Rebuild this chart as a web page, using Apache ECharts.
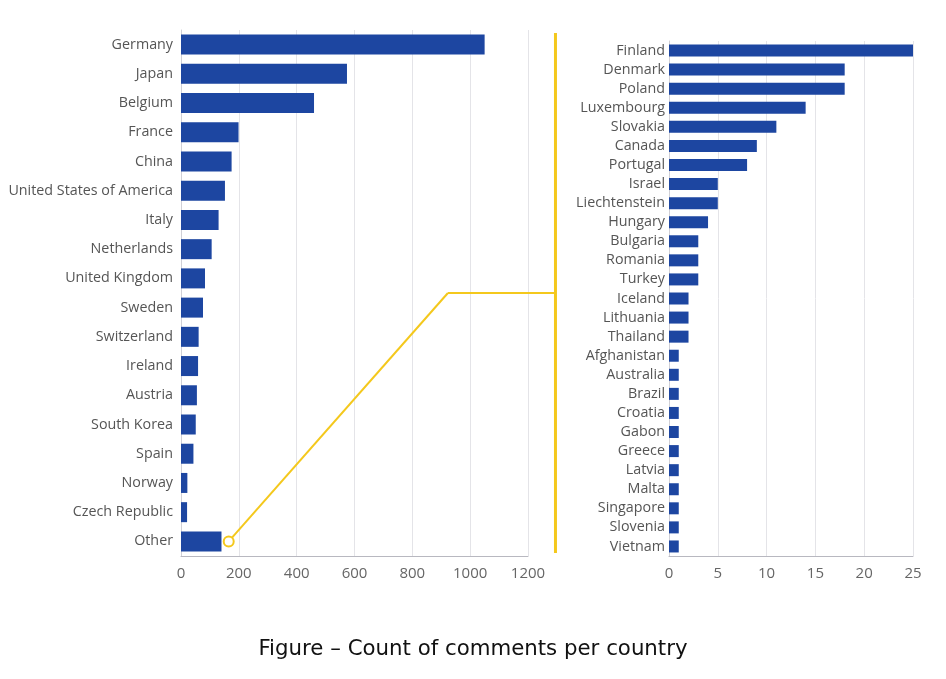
<!DOCTYPE html>
<html>
<head>
<meta charset="utf-8">
<script src="https://cdn.jsdelivr.net/npm/echarts@6/dist/echarts.min.js"></script>
<style>
  html, body { margin: 0; padding: 0; background: #fff; }
  #main { width: 946px; height: 679px; }
</style>
</head>
<body>
<div id="main"></div>
<script>
// left panel: main countries
var bigCountries = ['Germany', 'Japan', 'Belgium', 'France', 'China', 'United States of America',
  'Italy', 'Netherlands', 'United Kingdom', 'Sweden', 'Switzerland', 'Ireland', 'Austria',
  'South Korea', 'Spain', 'Norway', 'Czech Republic', 'Other'];
var bigCounts = [1050, 574, 460, 199, 175, 152, 130, 106, 83, 76, 61, 59, 55, 51, 43, 22, 21, 140];

// right panel: breakdown of "Other"
var otherCountries = ['Finland', 'Denmark', 'Poland', 'Luxembourg', 'Slovakia', 'Canada', 'Portugal',
  'Israel', 'Liechtenstein', 'Hungary', 'Bulgaria', 'Romania', 'Turkey', 'Iceland', 'Lithuania',
  'Thailand', 'Afghanistan', 'Australia', 'Brazil', 'Croatia', 'Gabon', 'Greece', 'Latvia',
  'Malta', 'Singapore', 'Slovenia', 'Vietnam'];
var otherCounts = [25, 18, 18, 14, 11, 9, 8, 5, 5, 4, 3, 3, 3, 2, 2, 2, 1, 1, 1, 1, 1, 1, 1, 1, 1, 1, 1];

var caption = 'Figure – Count of comments per country';

var barColor = '#1d46a1';
var yellow = '#f4c81c';
var labelFont = 'Open Sans';

var chart = echarts.init(document.getElementById('main'));

var option = {
  animation: false,
  title: {
    text: caption,
    left: 'center',
    top: 634,
    textStyle: { fontFamily: 'DejaVu Sans', fontWeight: 'normal', fontSize: 21.3, color: '#111' }
  },
  grid: [
    { left: 181, right: 418, top: 30, bottom: 123 },
    { left: 669, right: 33, top: 41, bottom: 123 }
  ],
  xAxis: [
    {
      gridIndex: 0, type: 'value', min: 0, max: 1200, interval: 200,
      axisLine: { show: true, lineStyle: { color: '#b8b8c0', width: 1 } },
      axisTick: { show: false },
      splitLine: { lineStyle: { color: '#e4e4e8' } },
      axisLabel: { color: '#666', fontFamily: labelFont, fontSize: 15, margin: 10,
        formatter: function (v) { return String(v); } }
    },
    {
      gridIndex: 1, type: 'value', min: 0, max: 25, interval: 5,
      axisLine: { show: true, lineStyle: { color: '#b8b8c0', width: 1 } },
      axisTick: { show: false },
      splitLine: { lineStyle: { color: '#e4e4e8' } },
      axisLabel: { color: '#666', fontFamily: labelFont, fontSize: 15, margin: 10 }
    }
  ],
  yAxis: [
    {
      gridIndex: 0, type: 'category', data: bigCountries, inverse: true,
      axisLine: { show: true, lineStyle: { color: '#d0d0d6' } },
      axisTick: { show: false },
      axisLabel: { color: '#555', fontFamily: labelFont, fontSize: 14.3, margin: 8 }
    },
    {
      gridIndex: 1, type: 'category', data: otherCountries, inverse: true,
      axisLine: { show: true, lineStyle: { color: '#d0d0d6' } },
      axisTick: { show: false },
      axisLabel: { color: '#555', fontFamily: labelFont, fontSize: 14.3, margin: 4 }
    }
  ],
  series: [
    {
      type: 'bar', xAxisIndex: 0, yAxisIndex: 0, data: bigCounts,
      barWidth: 20, itemStyle: { color: barColor }
    },
    {
      type: 'bar', xAxisIndex: 1, yAxisIndex: 1, data: otherCounts,
      barWidth: 12, itemStyle: { color: barColor }
    }
  ]
};

chart.setOption(option);

// connector from the "Other" bar to the breakdown panel
var circ = chart.convertToPixel({ gridIndex: 0 }, [165, 'Other']);
var knee = chart.convertToPixel({ gridIndex: 0 }, [923, 'United Kingdom']);
var uk = knee[1];
var sw = chart.convertToPixel({ gridIndex: 0 }, [0, 'Sweden'])[1];
var kneeY = (uk + sw) / 2;
var vx = chart.convertToPixel({ gridIndex: 0 }, [1295, 'Germany'])[0];
var r = 5;
var dx = circ[0] - knee[0], dy = circ[1] - kneeY;
var len = Math.sqrt(dx * dx + dy * dy);

chart.setOption({
  graphic: [
    { type: 'line', shape: { x1: vx, y1: 33, x2: vx, y2: 553 }, style: { stroke: yellow, lineWidth: 3 } },
    { type: 'line', shape: { x1: knee[0], y1: kneeY, x2: vx, y2: kneeY }, style: { stroke: yellow, lineWidth: 2 } },
    { type: 'line', shape: { x1: knee[0], y1: kneeY, x2: circ[0] - dx / len * r, y2: circ[1] - dy / len * r },
      style: { stroke: yellow, lineWidth: 2 } },
    { type: 'circle', shape: { cx: circ[0], cy: circ[1], r: r }, style: { fill: '#fff', stroke: yellow, lineWidth: 2 } }
  ]
});
</script>
</body>
</html>
